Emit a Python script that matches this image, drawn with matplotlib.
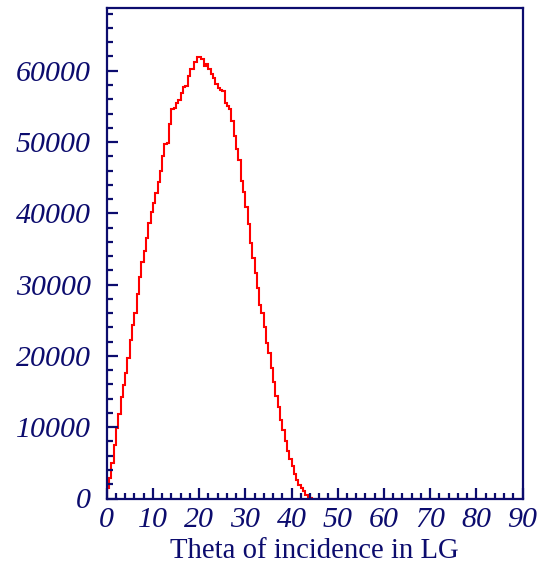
import numpy as np
import matplotlib
matplotlib.use("Agg")
import matplotlib.pyplot as plt
from matplotlib.ticker import MultipleLocator

# Histogram contents (0.5 degree bins starting at 0)
counts_nonzero = [
    1500, 2900, 5000, 7500, 9900, 11900, 14300, 15900, 17600, 19700,
    22200, 24300, 26000, 28700, 31000, 33200, 34700, 36500, 38600, 40200,
    41400, 42800, 44400, 46000, 48100, 49700, 49900, 52500, 54600, 54800,
    55500, 55900, 56900, 57700, 57800, 59300, 60200, 60300, 61200, 61900,
    61900, 61700, 60700, 60900, 60300, 59600, 59000, 58200, 57600, 57300,
    57200, 55500, 55000, 54700, 53000, 50900, 49000, 47500, 44600, 43000,
    40900, 38500, 35800, 33700, 31600, 29500, 27100, 26000, 24100, 21800,
    20400, 18300, 16400, 14400, 12900, 11000, 9600, 8000, 6600, 5500,
    4500, 3500, 2650, 1950, 1500, 1000, 560, 240, 80,
]
n_bins = 180
x_min, x_max = 0, 90
counts = np.array(counts_nonzero + [0] * (n_bins - len(counts_nonzero)), dtype=float)
edges = np.linspace(x_min, x_max, n_bins + 1)

x_ticks = [0, 10, 20, 30, 40, 50, 60, 70, 80, 90]
y_ticks = [0, 10000, 20000, 30000, 40000, 50000, 60000]
x_title = "Theta of incidence in LG"

navy = "#0c0c6e"
W, H = 539, 564
fig = plt.figure(figsize=(W / 100, H / 100), dpi=100)
ax = fig.add_axes([106.7 / W, 1 - 498.5 / H, (522.5 - 106.7) / W, (498.5 - 8) / H])

ax.stairs(counts, edges, baseline=0, color="red", linewidth=1.5, fill=False)

ax.set_xlim(x_min, x_max)
ax.set_ylim(0, 68800)

for s in ax.spines.values():
    s.set_color(navy)
    s.set_linewidth(1.6)

ax.set_xticks(x_ticks)
ax.set_yticks(y_ticks)
ax.xaxis.set_minor_locator(MultipleLocator(2))
ax.yaxis.set_minor_locator(MultipleLocator(2000))
ax.tick_params(axis="both", which="both", direction="in", colors=navy,
               top=False, right=False)
ax.tick_params(axis="both", which="major", length=8, width=1.6)
ax.tick_params(axis="both", which="minor", length=4, width=1.6)
ax.tick_params(axis="x", which="major", pad=6)
ax.tick_params(axis="y", which="major", pad=11.5)

tick_font = dict(family="Liberation Serif", style="italic", size=21.5)
ax.set_xticklabels([str(v) for v in x_ticks], fontdict=tick_font, color=navy)
ax.set_yticklabels([str(v) for v in y_ticks], fontdict=tick_font, color=navy)

ax.set_xlabel(x_title, family="Liberation Serif", size=20.7, color=navy, labelpad=4)

fig.savefig("out.png", dpi=100)
